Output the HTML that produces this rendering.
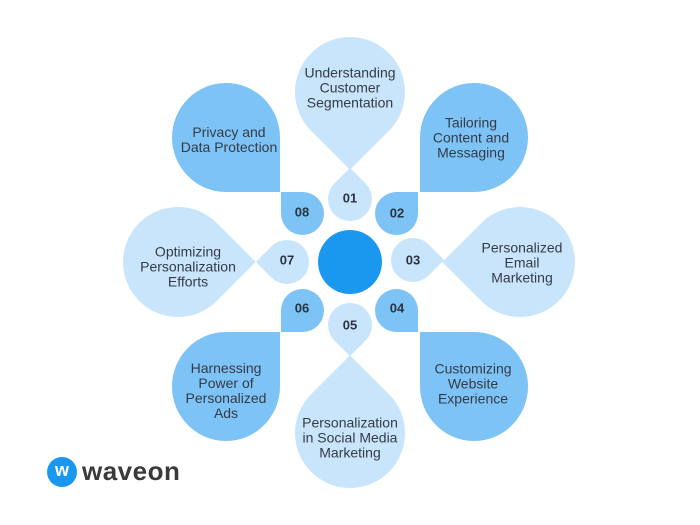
<!DOCTYPE html>
<html><head><meta charset="utf-8"><style>
html,body{margin:0;padding:0;background:#fff;}
body{width:700px;height:525px;position:relative;overflow:hidden;font-family:"Liberation Sans",sans-serif;}
.d{position:absolute;border-radius:50%;}
.p{background:#c9e5fb;}
.m{background:#7ec3f6;}
.t{position:absolute;color:#343b46;font-size:14px;line-height:15px;text-align:center;transform:translate(-50%,-50%);white-space:nowrap;}
.n{position:absolute;color:#2b3340;font-size:13px;font-weight:bold;transform:translate(-50%,-50%);}
</style></head><body>
<!-- big petals -->
<div class="d p" style="left:295px;top:37px;width:110px;height:110px;border-bottom-right-radius:0;transform:rotate(45deg);"></div>
<div class="d p" style="left:465px;top:207px;width:110px;height:110px;border-bottom-left-radius:0;transform:rotate(45deg);"></div>
<div class="d p" style="left:295px;top:378px;width:110px;height:110px;border-top-left-radius:0;transform:rotate(45deg);"></div>
<div class="d p" style="left:123px;top:207px;width:110px;height:110px;border-top-right-radius:0;transform:rotate(45deg);"></div>
<div class="d m" style="left:172px;top:83px;width:108px;height:109px;border-bottom-right-radius:0;"></div>
<div class="d m" style="left:420px;top:83px;width:108px;height:109px;border-bottom-left-radius:0;"></div>
<div class="d m" style="left:420px;top:332px;width:108px;height:109px;border-top-left-radius:0;"></div>
<div class="d m" style="left:172px;top:332px;width:108px;height:109px;border-top-right-radius:0;"></div>
<!-- small -->
<div class="d p" style="left:328px;top:177px;width:44px;height:44px;border-top-left-radius:0;transform:rotate(45deg);"></div>
<div class="d p" style="left:391px;top:238px;width:44px;height:44px;border-top-right-radius:0;transform:rotate(45deg);"></div>
<div class="d p" style="left:328px;top:303px;width:44px;height:44px;border-bottom-right-radius:0;transform:rotate(45deg);"></div>
<div class="d p" style="left:265px;top:240px;width:44px;height:44px;border-bottom-left-radius:0;transform:rotate(45deg);"></div>
<div class="d m" style="left:375px;top:192px;width:43px;height:43px;border-top-right-radius:0;"></div>
<div class="d m" style="left:375px;top:289px;width:43px;height:43px;border-bottom-right-radius:0;"></div>
<div class="d m" style="left:281px;top:289px;width:43px;height:43px;border-bottom-left-radius:0;"></div>
<div class="d m" style="left:281px;top:192px;width:43px;height:43px;border-top-left-radius:0;"></div>
<div class="d" style="left:318px;top:230px;width:64px;height:64px;background:#1a98f0;"></div>
<!-- numbers -->
<div class="n" style="left:350px;top:198px;">01</div>
<div class="n" style="left:397px;top:213px;">02</div>
<div class="n" style="left:413px;top:260px;">03</div>
<div class="n" style="left:397px;top:308px;">04</div>
<div class="n" style="left:350px;top:325px;">05</div>
<div class="n" style="left:302px;top:308px;">06</div>
<div class="n" style="left:287px;top:260px;">07</div>
<div class="n" style="left:302px;top:212px;">08</div>
<!-- labels -->
<div class="t" style="left:350px;top:88px;">Understanding<br>Customer<br>Segmentation</div>
<div class="t" style="left:229px;top:140px;">Privacy and<br>Data Protection</div>
<div class="t" style="left:471px;top:138px;">Tailoring<br>Content and<br>Messaging</div>
<div class="t" style="left:522px;top:263px;">Personalized<br>Email<br>Marketing</div>
<div class="t" style="left:473px;top:384px;">Customizing<br>Website<br>Experience</div>
<div class="t" style="left:350px;top:438px;">Personalization<br>in Social Media<br>Marketing</div>
<div class="t" style="left:226px;top:391px;">Harnessing<br>Power of<br>Personalized<br>Ads</div>
<div class="t" style="left:188px;top:267px;">Optimizing<br>Personalization<br>Efforts</div>
<!-- logo -->
<div class="d" style="left:47px;top:457px;width:30px;height:30px;background:#1a98f0;color:#fff;font-weight:bold;font-size:18px;line-height:27px;text-align:center;">w</div>
<div style="position:absolute;left:82px;top:455px;font-size:26px;font-weight:bold;color:#3a3a3a;line-height:32px;letter-spacing:0.5px;">waveon</div>
</body></html>
